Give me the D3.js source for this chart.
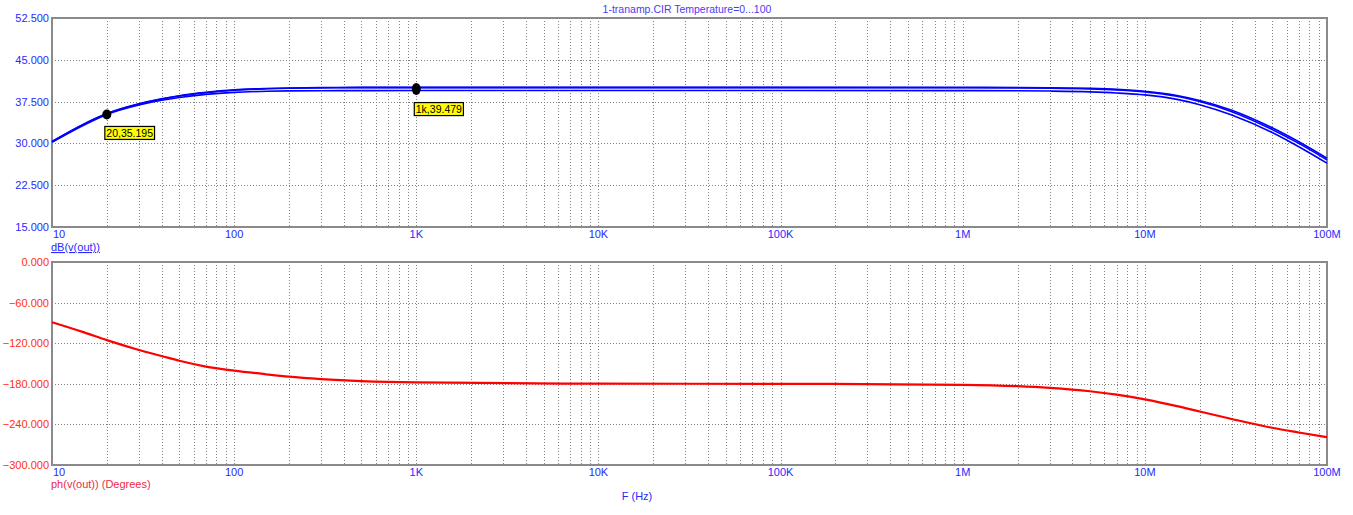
<!DOCTYPE html>
<html><head><meta charset="utf-8">
<script src="https://cdn.jsdelivr.net/npm/d3@7"></script>
<style>body{margin:0;background:#fff;} text{font-family:"Liberation Sans",Arial,sans-serif;}</style>
</head><body>
<svg id="c" width="1353" height="515"></svg>
<script>
const freqs = [10,15,20,30,40,50,70,100,150,200,300,500,1e3,1e4,1e5,1e6,2e6,3e6,5e6,7e6,1e7,1.5e7,2e7,3e7,5e7,7e7,1e8];
const dbT0   = [30.35,33.5,35.35,37.1,38.0,38.55,39.15,39.6,39.85,39.95,40.02,40.05,40.06,40.06,40.06,40.05,40.03,39.99,39.87,39.7,39.36,38.6,37.7,35.95,32.8,30.3,27.35];
const dbT50  = [30.3,33.45,35.3,37.05,37.95,38.5,39.1,39.55,39.8,39.9,39.97,40.0,40.0,40.0,40.0,39.99,39.96,39.92,39.79,39.6,39.25,38.45,37.5,35.7,32.5,30.0,27.05];
const dbT100 = [30.2,33.3,35.195,36.9,37.75,38.25,38.8,39.15,39.35,39.42,39.46,39.47,39.479,39.48,39.48,39.47,39.44,39.39,39.25,39.05,38.7,37.9,36.95,35.1,31.95,29.4,26.45];
const phase  = [-89,-104,-115.5,-130,-139,-146,-154.5,-160.5,-166,-169.5,-173,-176,-178,-179.8,-180,-181.5,-183.5,-186,-191,-196,-203,-213,-221,-232,-245,-252,-259];
const xTicks = [10,100,1e3,1e4,1e5,1e6,1e7,1e8];
const xTickLabels = ["10","100","1K","10K","100K","1M","10M","100M"];
const dbTicks = [15,22.5,30,37.5,45,52.5];
const phTicks = [-300,-240,-180,-120,-60,0];
const markers = [{f:20,v:35.195,label:"20,35.195"},{f:1000,v:39.479,label:"1k,39.479"}];
const title = "1-tranamp.CIR Temperature=0...100";

const svg = d3.select("#c");
const L = 52, R = 1327;
const x = d3.scaleLog().domain([10,1e8]).range([L,R]);
const yDb = d3.scaleLinear().domain([15,52.5]).range([227,18]);
const yPh = d3.scaleLinear().domain([-300,0]).range([465,262]);

const blue = "#2828ff", red = "#ff3010", grid = "#808080";

const xGrid = [];
for (let d = 10; d < 1e8; d *= 10) for (let k = 1; k <= 10; k++) { if (k===1 && d>10) continue; xGrid.push(d*k); }

function panel(y, ticks, fmtColor) {
  const [y0,y1] = y.range();
  const g = svg.append("g");
  g.selectAll("line.vx").data(xGrid.filter(v=>v>10 && v<1e8)).join("line")
    .attr("x1",d=>Math.round(x(d))+0.5).attr("x2",d=>Math.round(x(d))+0.5)
    .attr("y1",y1).attr("y2",y0)
    .attr("stroke",grid).attr("stroke-dasharray","1,2").attr("stroke-width",1);
  g.selectAll("line.hy").data(ticks.slice(1,-1)).join("line")
    .attr("x1",L).attr("x2",R)
    .attr("y1",d=>Math.round(y(d))+0.5).attr("y2",d=>Math.round(y(d))+0.5)
    .attr("stroke",grid).attr("stroke-dasharray","1,2").attr("stroke-width",1);
  g.append("rect").attr("x",L).attr("y",y1).attr("width",R-L).attr("height",y0-y1)
    .attr("fill","none").attr("stroke","#8a8a8a").attr("stroke-width",2);
  g.selectAll("text.yl").data(ticks).join("text")
    .attr("x",L-3).attr("y",d=>y(d)+4).attr("text-anchor","end")
    .attr("font-size",11).attr("fill",fmtColor).text(d=>d3.format(".3f")(d));
  g.selectAll("text.xl").data(xTicks).join("text")
    .attr("x",(d,i)=> i===0 ? L+1 : x(d)).attr("y",y0+11)
    .attr("text-anchor",(d,i)=> i===0 ? "start" : "middle")
    .attr("font-size",11).attr("fill",blue).text((d,i)=>xTickLabels[i]);
}
panel(yDb, dbTicks, blue);
panel(yPh, phTicks, red);

const lineDb = (arr) => d3.line().x((d,i)=>x(freqs[i])).y(d=>yDb(d)).curve(d3.curveMonotoneX)(arr);
[dbT0, dbT50, dbT100].forEach(s => {
  svg.append("path").attr("d",lineDb(s)).attr("fill","none").attr("stroke","#0000ff").attr("stroke-width",1.6);
});
svg.append("path").attr("d", d3.line().x((d,i)=>x(freqs[i])).y(d=>yPh(d)).curve(d3.curveMonotoneX)(phase))
  .attr("fill","none").attr("stroke","#ff0000").attr("stroke-width",2.2);

markers.forEach((m,i) => {
  const cx = x(m.f), cy = yDb(m.v);
  svg.append("ellipse").attr("cx",cx).attr("cy",cy - (i===1?1.5:0)).attr("rx",4.5).attr("ry",i===1?6:5).attr("fill","#000");
  const tx = cx - 2, ty = cy + 12;
  const t = svg.append("text").attr("x",tx+1.5).attr("y",ty+10.5).attr("font-size",10.5).attr("fill","#000").text(m.label);
  const w = t.node().getComputedTextLength();
  svg.insert("rect", () => t.node()).attr("x",tx).attr("y",ty).attr("width",w+3).attr("height",13)
    .attr("fill","#ffff00").attr("stroke","#000").attr("stroke-width",1.2);
});

svg.append("text").attr("x",687).attr("y",13).attr("text-anchor","middle").attr("font-size",10.5).attr("fill","#4a3cf0").text(title);
svg.append("text").attr("x",51).attr("y",251).attr("font-size",11).attr("fill",blue).attr("text-decoration","underline").text("dB(v(out))");
svg.append("text").attr("x",51).attr("y",488).attr("font-size",11).attr("fill","#ee2848").text("ph(v(out)) (Degrees)");
svg.append("text").attr("x",637).attr("y",500).attr("text-anchor","middle").attr("font-size",11).attr("fill",blue).text("F (Hz)");
</script>
</body></html>
